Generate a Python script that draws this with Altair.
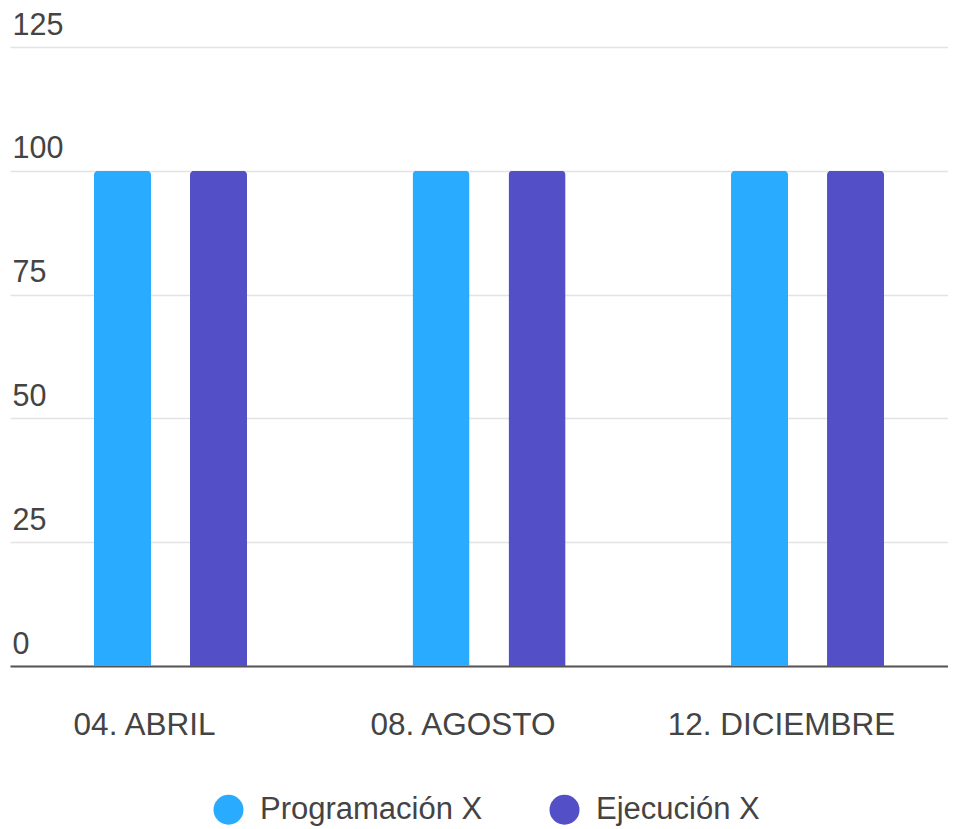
import altair as alt
import pandas as pd

categories = ["04. ABRIL", "08. AGOSTO", "12. DICIEMBRE"]
series = ["Programación X", "Ejecución X"]
programacion = [100, 100, 100]
ejecucion = [100, 100, 100]
colors = ["#29ABFF", "#524FC7"]

rows = []
for i, c in enumerate(categories):
    rows.append({"mes": c, "serie": series[0], "valor": programacion[i]})
    rows.append({"mes": c, "serie": series[1], "valor": ejecucion[i]})
df = pd.DataFrame(rows)

FONT = "Liberation Sans"
TEXT = "#444444"

chart = alt.Chart(df).mark_bar(
    cornerRadiusTopLeft=4, cornerRadiusTopRight=4
).encode(
    x=alt.X("mes:N", sort=categories, title=None,
            scale=alt.Scale(paddingInner=0.2, paddingOuter=0.0725, align=0.717),
            axis=alt.Axis(labelAngle=0, ticks=False, domain=True, domainColor="#555555",
                          domainWidth=2, grid=False, labelFontSize=31.5, labelColor=TEXT,
                          labelFont=FONT, labelPadding=68, labelBaseline="alphabetic",
                          labelOffset=-26, labelLimit=0)),
    xOffset=alt.XOffset("serie:N", sort=series,
                        scale=alt.Scale(paddingInner=0.406, paddingOuter=0.53)),
    y=alt.Y("valor:Q", title=None,
            scale=alt.Scale(domain=[0, 125]),
            axis=alt.Axis(values=[0, 25, 50, 75, 100, 125], ticks=False, tickSize=0, domain=False,
                          grid=True, gridColor="#E3E3E3", gridWidth=1.5,
                          labelAlign="left", labelBaseline="alphabetic", labelPadding=-2,
                          labelOffset=-13, labelFontSize=30.5, labelColor=TEXT,
                          labelFont=FONT)),
    color=alt.Color("serie:N", sort=series, title=None,
                    scale=alt.Scale(domain=series, range=colors),
                    legend=alt.Legend(orient="none", direction="horizontal",
                                      legendX=203, legendY=747,
                                      symbolType="circle", symbolSize=900,
                                      symbolStrokeWidth=0, labelFontSize=31,
                                      labelFont=FONT, labelColor=TEXT, labelLimit=0,
                                      labelOffset=16, columnPadding=66)),
).properties(
    width=938, height=619,
    padding={"left": 2, "top": 39, "right": 0, "bottom": 160},
    autosize=alt.AutoSizeParams(type="none"),
).configure_view(stroke=None)

chart.save("out.html", embed_options={"renderer": "svg", "actions": False})
